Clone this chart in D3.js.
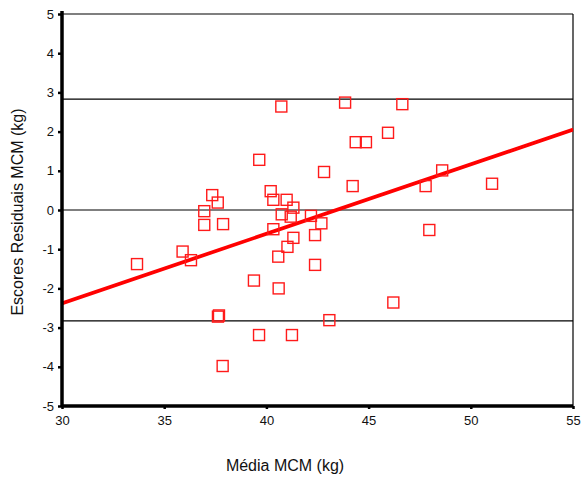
<!DOCTYPE html>
<html>
<head>
<meta charset="utf-8">
<script src="https://cdn.jsdelivr.net/npm/d3@7"></script>
<style>
  body { margin: 0; background: #fff; }
  text { font-family: "Liberation Sans", Arial, sans-serif; fill: #111; }
</style>
</head>
<body>
<svg id="chart" width="581" height="477"></svg>
<script>
// media MCM (kg) vs escores residuais MCM (kg)
const media = [33.67, 35.9, 36.31, 36.96, 36.96, 37.35, 37.62, 37.88, 39.65, 40.73,
  40.21, 40.34, 40.99, 41.32, 40.75, 41.19, 42.18, 42.69, 40.34, 41.32,
  42.38, 41.03, 40.58, 42.38, 39.39, 40.6, 37.63, 37.68, 39.64, 41.25,
  43.08, 37.86, 46.21, 47.97, 43.85, 46.65, 44.37, 44.87, 45.95, 42.82,
  44.22, 48.6, 47.79, 51.04];
const residuos = [-1.38, -1.06, -1.28, -0.03, -0.38, 0.38, 0.19, -0.36, 1.28, 2.64,
  0.48, 0.26, 0.26, 0.06, -0.11, -0.17, -0.15, -0.34, -0.49, -0.71,
  -0.64, -0.94, -1.19, -1.4, -1.8, -2.0, -2.72, -2.69, -3.19, -3.19,
  -2.81, -3.98, -2.36, -0.51, 2.74, 2.7, 1.73, 1.73, 1.97, 0.97,
  0.61, 1.01, 0.61, 0.67];
const xTicks = [30, 35, 40, 45, 50, 55];
const yTicks = [-5, -4, -3, -2, -1, 0, 1, 2, 3, 4, 5];
const refLines = [2.83, 0, -2.83];
const regressao = [[30, -2.36], [55, 2.07]];

const svg = d3.select('#chart');
const mLeft = 62, mRight = 573, mTop = 14, mBottom = 406;

const x = d3.scaleLinear().domain([30, 55]).range([mLeft, mRight]);
const y = d3.scaleLinear().domain([-5, 5]).range([mBottom, mTop]);

// frame: thin top and right
svg.append('line').attr('x1', mLeft).attr('x2', mRight).attr('y1', mTop).attr('y2', mTop)
    .attr('stroke', '#000').attr('stroke-width', 1.2);
svg.append('line').attr('x1', mRight).attr('x2', mRight).attr('y1', mTop).attr('y2', mBottom)
    .attr('stroke', '#000').attr('stroke-width', 1.2);

// horizontal reference lines
svg.selectAll('.ref').data(refLines).enter().append('line')
    .attr('class', 'ref')
    .attr('x1', mLeft).attr('x2', mRight)
    .attr('y1', d => y(d)).attr('y2', d => y(d))
    .attr('stroke', '#000').attr('stroke-width', 1.2);

// regression line (drawn twice, slightly offset, as in original)
const line = d3.line().x(d => x(d[0])).y(d => y(d[1]));
svg.append('path').attr('d', line(regressao)).attr('fill', 'none')
    .attr('stroke', '#ff0000').attr('stroke-width', 2.2);
svg.append('path').attr('d', line(regressao)).attr('fill', 'none')
    .attr('stroke', '#ff0000').attr('stroke-width', 2.2)
    .attr('transform', 'translate(0,1.6)');

// points
const s = 11;
svg.selectAll('.pt').data(media).enter().append('rect')
    .attr('class', 'pt')
    .attr('x', d => x(d) - s / 2)
    .attr('y', (d, i) => y(residuos[i]) - s / 2)
    .attr('width', s).attr('height', s)
    .attr('fill', 'none')
    .attr('stroke', '#ff1a1a').attr('stroke-width', 1.4);

// axes (plain hyphen for negatives, as in the original)
const xAxis = d3.axisBottom(x).tickValues(xTicks).tickSize(3).tickPadding(7)
    .tickFormat(d => String(d));
const gx = svg.append('g').attr('transform', `translate(0,${mBottom})`).call(xAxis);
const yAxis = d3.axisLeft(y).tickValues(yTicks).tickSize(4).tickPadding(4)
    .tickFormat(d => String(d));
const gy = svg.append('g').attr('transform', `translate(${mLeft},0)`).call(yAxis);

[gx, gy].forEach(g => {
    g.select('.domain').attr('stroke', '#000').attr('stroke-width', 3.5);
    g.selectAll('.tick line').attr('stroke', '#000').attr('stroke-width', 2.5);
    g.selectAll('.tick text').style('font-size', '13px').attr('fill', '#111')
        .style('font-family', '"Liberation Sans", Arial, sans-serif');
});
gx.select('.domain').attr('d', `M${mLeft},0H${mRight}`);
gy.select('.domain').attr('d', `M0,${mTop - 3}V${mBottom}`);

// titles
svg.append('text').attr('x', 285).attr('y', 471).attr('text-anchor', 'middle')
    .style('font-size', '16px').text('Média MCM (kg)');
svg.append('text').attr('transform', 'translate(23,212) rotate(-90)')
    .attr('text-anchor', 'middle').style('font-size', '16px')
    .text('Escores Residuais MCM (kg)');
</script>
</body>
</html>
